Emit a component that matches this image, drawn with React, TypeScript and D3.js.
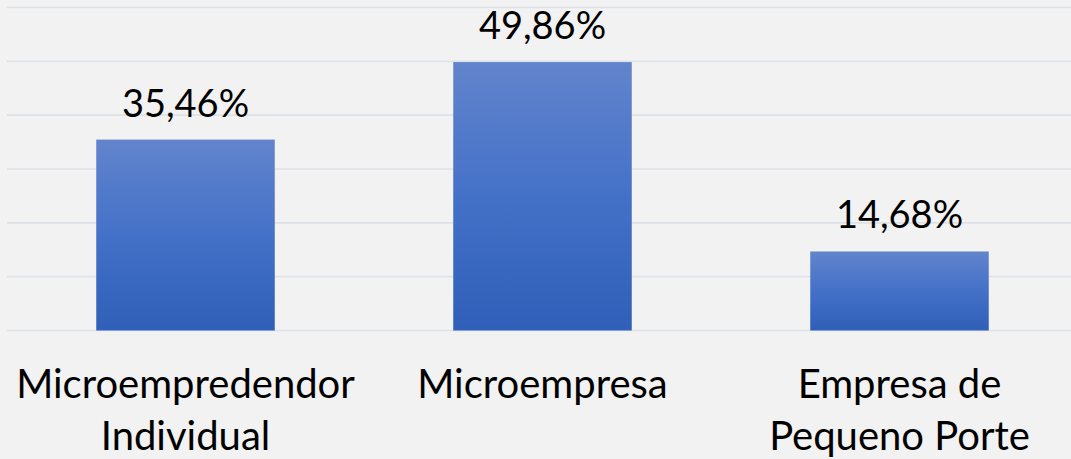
import React from "react";
import * as d3 from "d3";

const categories = ["Microempredendor Individual", "Microempresa", "Empresa de Pequeno Porte"];
const categoryLines = [["Microempredendor", "Individual"], ["Microempresa"], ["Empresa de", "Pequeno Porte"]];
const values = [35.46, 49.86, 14.68];
const valueLabels = ["35,46%", "49,86%", "14,68%"];
const yTicks = [0, 10, 20, 30, 40, 50, 60];

const W = 1071;
const H = 459;
const FONT = "Lato, 'Open Sans', sans-serif";

export default function App() {
  const x = d3.scaleBand<string>().domain(categories).range([7, 1078]).paddingInner(0.5).paddingOuter(0.25);
  const y = d3.scaleLinear().domain([0, 60]).range([330.5, 7.5]);
  return (
    <svg width={W} height={H} style={{ position: "absolute", left: 0, top: 0, display: "block" }}>
      <defs>
        <linearGradient id="barGrad" x1="0" y1="0" x2="0" y2="1">
          <stop offset="0%" stopColor="#6284cc" />
          <stop offset="50%" stopColor="#4471c8" />
          <stop offset="100%" stopColor="#2f5fb8" />
        </linearGradient>
      </defs>
      <rect x={0} y={0} width={W} height={H} fill="#f2f2f2" />
      {yTicks.map((t) => (
        <line key={t} x1={7} x2={W} y1={y(t)} y2={y(t)} stroke="#dde2e8" strokeWidth={1.6} />
      ))}
      {categories.map((c, i) => (
        <rect key={c} x={x(c)!} y={y(values[i])} width={x.bandwidth()} height={y(0) - y(values[i])} fill="url(#barGrad)" />
      ))}
      {categories.map((c, i) => (
        <text key={"v" + c} x={x(c)! + x.bandwidth() / 2} y={y(values[i]) - 23} textAnchor="middle" fontFamily={FONT} fontSize={38} fill="#000">
          {valueLabels[i]}
        </text>
      ))}
      {categories.map((c, i) => (
        <text key={"c" + c} x={x(c)! + x.bandwidth() / 2} textAnchor="middle" fontFamily={FONT} fontSize={40} fill="#000">
          {categoryLines[i].map((l, j) => (
            <tspan key={j} x={x(c)! + x.bandwidth() / 2} y={398 + j * 52}>{l}</tspan>
          ))}
        </text>
      ))}
    </svg>
  );
}
